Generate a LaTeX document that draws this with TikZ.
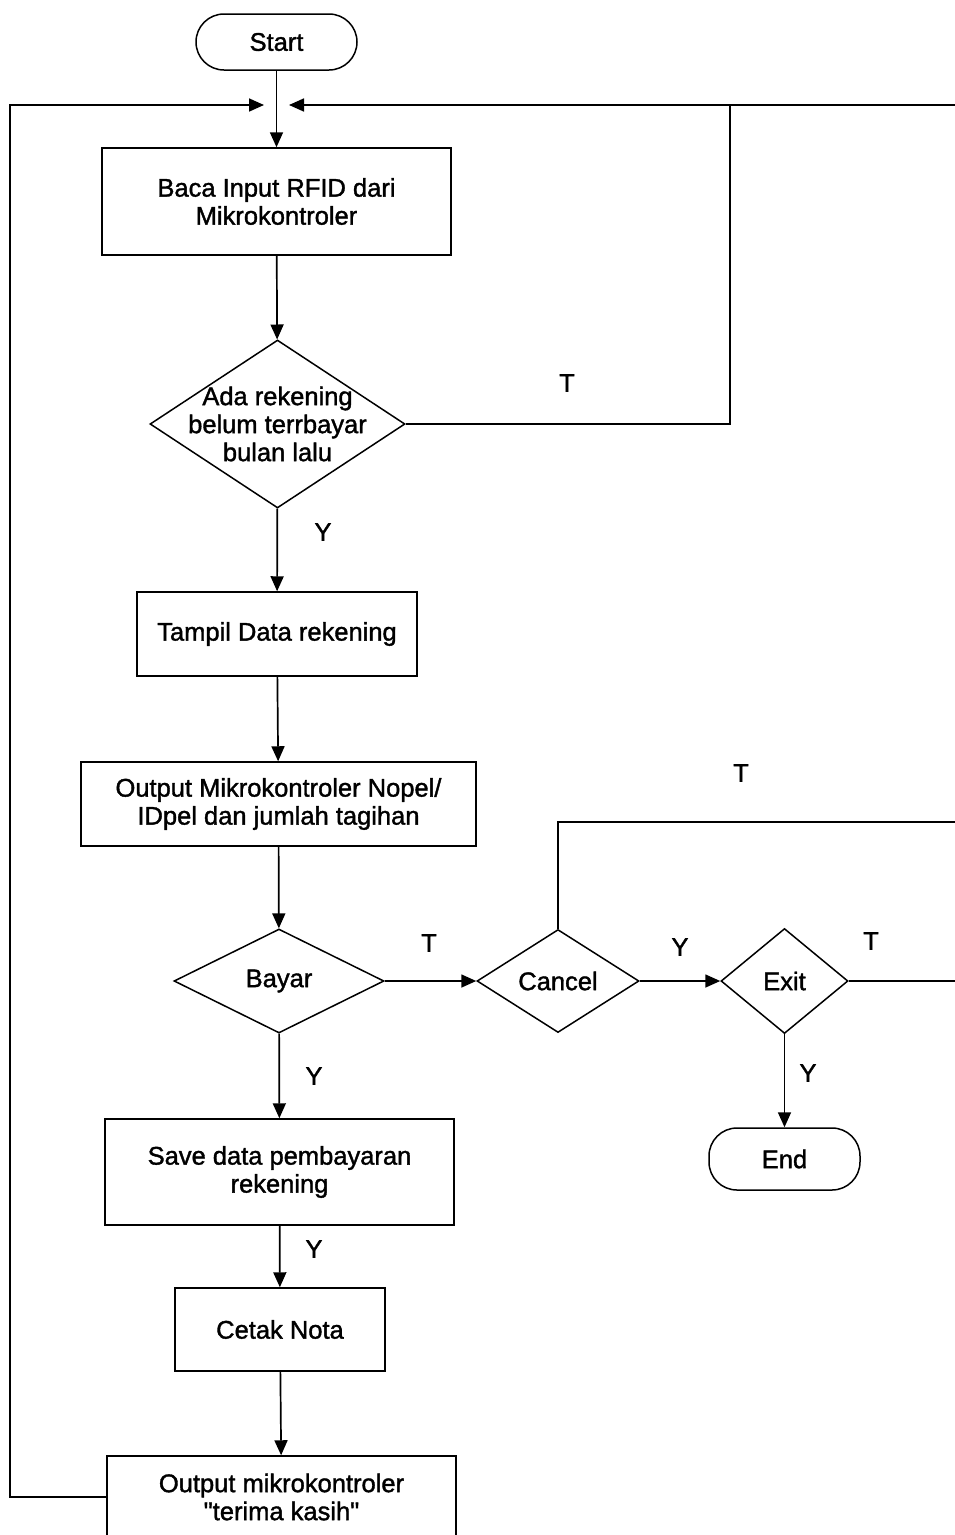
\documentclass[tikz,border=0pt]{standalone}
\usepackage{fontspec}
\setmainfont{Liberation Sans}[FakeBold=1.4, Ligatures=TeXOff]
\usetikzlibrary{arrows.meta,shapes.geometric}
\begin{document}
\begin{tikzpicture}[x=1pt,y=-1pt,
  every node/.style={font=\fontsize{25.5}{28}\selectfont, align=center, inner sep=0pt},
  proc/.style={draw, line width=1.5pt, rectangle},
  term/.style={draw, line width=1.5pt, rectangle, rounded corners=28pt},
  dec/.style={draw, line width=1.5pt, diamond},
  flow/.style={line width=1.7pt, -{Triangle[length=15pt,width=13pt]}},
  plain/.style={line width=1.7pt}
]
\useasboundingbox (0,0) rectangle (955,1535);
\clip (0,0) rectangle (955,1535);

% terminals
\node[term, minimum width=161, minimum height=56] (start) at (276.5,42) {Start};
\node[term, minimum width=151, minimum height=62] (end) at (784.5,1159) {End};

% process boxes
\node[proc, minimum width=349, minimum height=107] (b1) at (276.5,201.5) {Baca Input RFID dari\\Mikrokontroler};
\node[proc, minimum width=280, minimum height=84] (b2) at (277,634) {Tampil Data rekening};
\node[proc, minimum width=395, minimum height=84] (b3) at (278.5,804) {Output Mikrokontroler Nopel/\\IDpel dan jumlah tagihan};
\node[proc, minimum width=349, minimum height=106] (b4) at (279.5,1172) {Save data pembayaran\\rekening};
\node[proc, minimum width=210, minimum height=83] (b5) at (280,1329.5) {Cetak Nota};
\node[proc, minimum width=349, minimum height=82] (b6) at (281.5,1497) {Output mikrokontroler\\"terima kasih"};

% decisions
\node[dec, minimum width=255, minimum height=168] (d1) at (277.5,424) {};
\node (d1t) at (d1) {Ada rekening\\belum terrbayar\\bulan lalu};
\node[dec, minimum width=210, minimum height=104] (d2) at (279,981) {};
\node (d2t) at (d2) {Bayar};
\node[dec, minimum width=162, minimum height=103] (d3) at (558,981) {};
\node (d3t) at (d3) {Cancel};
\node[dec, minimum width=127, minimum height=105] (d4) at (784.5,981) {};
\node (d4t) at (d4) {Exit};

% junction points
\coordinate (mL) at (264,105);
\coordinate (mR) at (289,105);
\coordinate (lTop) at (10,105);
\coordinate (rTurn) at (730,105);
\coordinate (rEdge) at (955,105);
\coordinate (cEdge) at (955,822);
\coordinate (xEdge) at (955,981);

% main flow
\draw[flow] (start) -- (b1);
\draw[flow] (b1) -- (d1);
\draw[flow] (d1) -- (b2);
\draw[flow] (b2) -- (b3);
\draw[flow] (b3) -- (d2);
\draw[flow] (d2) -- (b4);
\draw[flow] (b4) -- (b5);
\draw[flow] (b5) -- (b6);
\draw[flow] (d2.east) -- (d3.west);
\draw[flow] (d3.east) -- (d4.west);
\draw[flow] (d4) -- (end);

% loops back to the top
\draw[plain] (d1.east) -| (rTurn);
\draw[flow] (rEdge) -- (mR);
\draw[flow] (b6.west) -| (lTop) -- (mL);
\draw[plain] (d3.north) |- (cEdge);
\draw[plain] (d4.east) -- (xEdge);

% branch labels
\node (l1) at (567,383) {T};
\node (l2) at (323,532) {Y};
\node (l3) at (741,773) {T};
\node (l4) at (429,943) {T};
\node (l5) at (680,947) {Y};
\node (l6) at (871,941) {T};
\node (l7) at (314,1076) {Y};
\node (l8) at (808,1073) {Y};
\node (l9) at (314,1249) {Y};
\end{tikzpicture}
\end{document}
